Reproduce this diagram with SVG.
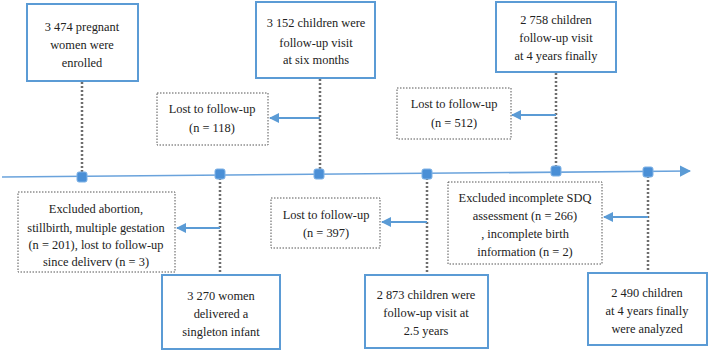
<svg xmlns="http://www.w3.org/2000/svg" width="709" height="352" viewBox="0 0 709 352">
<defs>
<style>
.main{fill:#fff;stroke:#5b9bd5;stroke-width:2}
.side{fill:#fff;stroke:#555;stroke-width:1;stroke-dasharray:1.5,1.5}
.dot{stroke:#6e6e6e;stroke-width:2.5;stroke-dasharray:2,2;fill:none}
.arr{stroke:#5b9bd5;stroke-width:2;fill:none;marker-end:url(#ah)}
.tl{stroke:#6aa3dc;stroke-width:1.6;fill:none;marker-end:url(#ah2)}
.mk{fill:#4a8fd6;stroke:#7fb2e6;stroke-width:1}
text{font-size:12.4px;fill:#222;text-anchor:middle}
</style>
<marker id="ah" viewBox="0 0 10 10" refX="9" refY="5" markerWidth="5" markerHeight="5" orient="auto" markerUnits="strokeWidth">
<path d="M0,0 L10,5 L0,10 z" fill="#5b9bd5"/>
</marker>
<marker id="ah2" viewBox="0 0 10 10" refX="9" refY="5" markerWidth="7" markerHeight="7" orient="auto" markerUnits="strokeWidth">
<path d="M0,0 L10,5 L0,10 z" fill="#5b9bd5"/>
</marker>
</defs>

<g id="connectors">
<line class="tl" x1="2" y1="177" x2="690" y2="171"/>
<line class="dot" x1="82" y1="82" x2="82" y2="177"/>
<line class="dot" x1="320" y1="79" x2="320" y2="174"/>
<line class="dot" x1="556" y1="73" x2="556" y2="171"/>
<line class="dot" x1="220" y1="174" x2="220" y2="275"/>
<line class="dot" x1="427" y1="174" x2="427" y2="275"/>
<line class="dot" x1="648" y1="172" x2="648" y2="273"/>
<line class="arr" x1="320" y1="118" x2="270" y2="118"/>
<line class="arr" x1="556" y1="115" x2="512" y2="115"/>
<line class="arr" x1="220" y1="228" x2="177" y2="228"/>
<line class="arr" x1="427" y1="222" x2="382" y2="222"/>
<line class="arr" x1="648" y1="217" x2="604" y2="217"/>
<rect class="mk" x="77" y="172" width="10" height="10" rx="2"/>
<rect class="mk" x="215" y="169" width="10" height="10" rx="2"/>
<rect class="mk" x="314" y="169" width="10" height="10" rx="2"/>
<rect class="mk" x="422" y="169" width="10" height="10" rx="2"/>
<rect class="mk" x="551" y="166" width="10" height="10" rx="2"/>
<rect class="mk" x="643" y="167" width="10" height="10" rx="2"/>
</g>

<g id="nodes" font-family="'Liberation Serif', 'DejaVu Serif', serif">
<g id="n1">
<rect class="main" x="27" y="4" width="111" height="77"/>
<text x="82" y="31">3 474 pregnant</text>
<text x="82" y="49">women were</text>
<text x="82" y="67">enrolled</text>
</g>

<g id="n2">
<rect class="main" x="256" y="2" width="119" height="76"/>
<text x="316" y="27">3 152 children were</text>
<text x="316" y="47">follow-up visit</text>
<text x="316" y="64">at six months</text>
</g>

<g id="n3">
<rect class="main" x="496" y="2" width="120" height="70"/>
<text x="556" y="24">2 758 children</text>
<text x="556" y="42">follow-up visit</text>
<text x="556" y="60">at 4 years finally</text>
</g>

<g id="lost118">
<rect class="side" x="157" y="93" width="111" height="52"/>
<text x="212" y="113">Lost to follow-up</text>
<text x="212" y="132">(n = 118)</text>
</g>

<g id="lost512">
<rect class="side" x="397" y="88" width="114" height="51"/>
<text x="454" y="108">Lost to follow-up</text>
<text x="454" y="127">(n = 512)</text>
</g>

<g id="excl1">
<rect class="side" x="18" y="192" width="157" height="80"/>
<text x="96" y="213">Excluded abortion,</text>
<text x="96" y="232">stillbirth, multiple gestation</text>
<text x="96" y="249">(n = 201), lost to follow-up</text>
<text x="96" y="266">since deliverv (n = 3)</text>
</g>

<g id="n4">
<rect class="main" x="162" y="275" width="118" height="74"/>
<text x="221" y="300">3 270 women</text>
<text x="221" y="318">delivered a</text>
<text x="221" y="336">singleton infant</text>
</g>

<g id="lost397">
<rect class="side" x="271" y="198" width="109" height="50"/>
<text x="326" y="219">Lost to follow-up</text>
<text x="326" y="237">(n = 397)</text>
</g>

<g id="n5">
<rect class="main" x="365" y="275" width="123" height="73"/>
<text x="426" y="299">2 873 children were</text>
<text x="426" y="317">follow-up visit at</text>
<text x="426" y="335">2.5 years</text>
</g>

<g id="excl2">
<rect class="side" x="448" y="182" width="154" height="82"/>
<text x="525" y="202">Excluded incomplete SDQ</text>
<text x="525" y="220">assessment (n = 266)</text>
<text x="525" y="238">, incomplete birth</text>
<text x="525" y="256">information (n = 2)</text>
</g>

<g id="n6">
<rect class="main" x="588" y="273" width="119" height="72"/>
<text x="647" y="297">2 490 children</text>
<text x="647" y="315">at 4 years finally</text>
<text x="647" y="333">were analyzed</text>
</g>
</g>
</svg>
